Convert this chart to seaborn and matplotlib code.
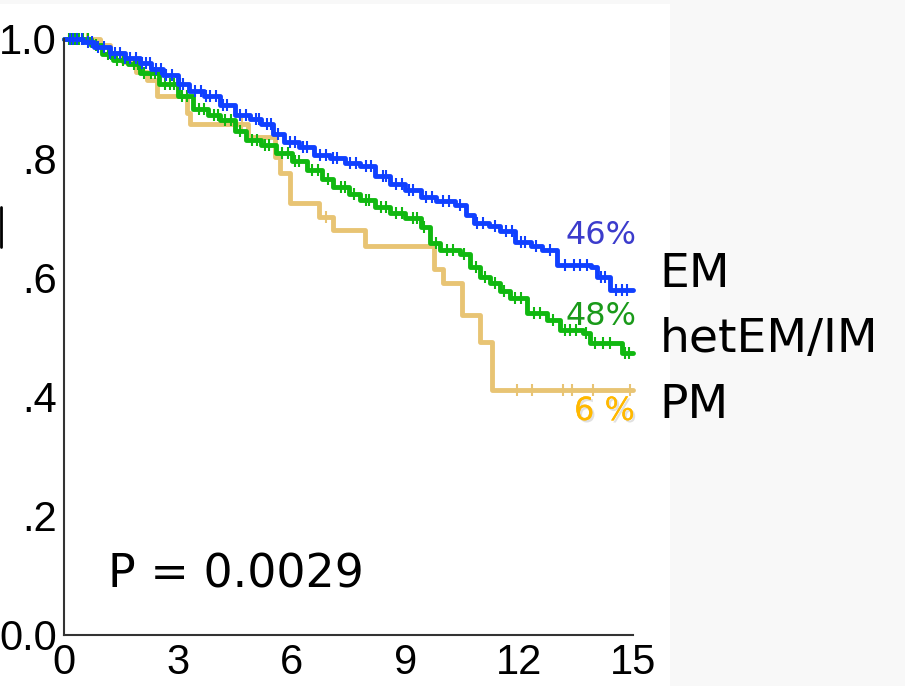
import numpy as np
import pandas as pd
import matplotlib
matplotlib.use("Agg")
import matplotlib.pyplot as plt
import matplotlib.patheffects as pe
from matplotlib.patches import Rectangle
from matplotlib.lines import Line2D
import seaborn as sns

# Kaplan-Meier steps: (years, survival)
em_t = [0, 0.5, 0.8, 1.2, 1.6, 2.0, 2.3, 2.6, 3.0, 3.3, 3.7, 4.1, 4.5, 4.9, 5.2, 5.5, 5.8,
        6.2, 6.6, 7.0, 7.4, 7.8, 8.2, 8.6, 9.0, 9.4, 9.8, 10.3, 10.6, 10.8, 11.2, 11.5,
        11.9, 12.3, 12.6, 13.0, 13.9, 14.05, 14.4, 15.0]
em_s = [1.0, 0.995, 0.987, 0.976, 0.968, 0.96, 0.95, 0.94, 0.925, 0.912, 0.905, 0.89, 0.872,
        0.865, 0.857, 0.84, 0.828, 0.818, 0.806, 0.8, 0.792, 0.787, 0.77, 0.757, 0.747, 0.735,
        0.728, 0.722, 0.705, 0.692, 0.686, 0.678, 0.66, 0.652, 0.646, 0.621, 0.617, 0.6,
        0.579, 0.579]

het_t = [0, 0.7, 1.0, 1.3, 1.7, 2.0, 2.5, 3.0, 3.4, 3.8, 4.1, 4.5, 4.8, 5.2, 5.6, 6.0, 6.4,
         6.8, 7.1, 7.5, 7.8, 8.2, 8.6, 9.0, 9.4, 9.65, 9.9, 10.45, 10.7, 10.97, 11.23, 11.5,
         11.76, 12.2, 12.73, 13.08, 13.68, 13.87, 14.7, 15.0]
het_s = [1.0, 0.99, 0.975, 0.965, 0.958, 0.943, 0.925, 0.905, 0.882, 0.873, 0.864, 0.845,
         0.83, 0.822, 0.808, 0.795, 0.78, 0.765, 0.752, 0.74, 0.73, 0.718, 0.708, 0.7, 0.685,
         0.658, 0.646, 0.64, 0.618, 0.6, 0.59, 0.578, 0.566, 0.54, 0.528, 0.512, 0.507, 0.49,
         0.473, 0.473]

pm_t = [0, 0.95, 1.2, 1.55, 1.9, 2.2, 2.45, 3.24, 3.32, 4.85, 5.55, 5.7, 5.96, 6.72, 7.1,
        7.94, 9.75, 10.0, 10.49, 10.97, 11.28, 15.0]
pm_s = [1.0, 0.99, 0.976, 0.962, 0.945, 0.932, 0.905, 0.876, 0.857, 0.836, 0.802, 0.775,
        0.725, 0.701, 0.68, 0.652, 0.614, 0.591, 0.537, 0.492, 0.411, 0.411]

# censored times (tick marks)
em_cens = [0.15, 0.25, 0.35, 0.48, 0.62, 0.75, 0.9, 1.05, 1.2, 1.35, 1.48, 1.62, 1.75, 1.9,
           2.05, 2.15, 2.28, 2.42, 2.55, 2.7, 2.85, 3.05, 3.15, 3.45, 3.6, 3.75, 3.85, 4.0,
           4.2, 4.3, 4.65, 4.8, 5.05, 5.15, 5.35, 5.45, 5.65, 5.95, 6.1, 6.3, 6.4, 6.75, 6.9,
           7.1, 7.2, 7.55, 7.7, 7.95, 8.1, 8.4, 8.5, 8.75, 8.9, 9.1, 9.2, 9.55, 9.7, 10.0,
           10.15, 10.45, 10.9, 11.05, 11.35, 11.65, 11.8, 12.05, 12.15, 12.45, 12.8, 13.2,
           13.45, 13.6, 13.8, 14.15, 14.25, 14.55, 14.7, 14.85]
het_cens = [0.12, 0.22, 0.3, 0.4, 0.5, 0.62, 0.85, 1.15, 1.25, 1.4, 1.55, 1.85, 1.95, 2.1,
            2.3, 2.4, 2.65, 2.8, 2.9, 3.1, 3.25, 3.55, 3.7, 3.95, 4.05, 4.25, 4.4, 4.65,
            4.95, 5.1, 5.3, 5.4, 5.75, 5.9, 6.1, 6.2, 6.55, 6.7, 6.95, 7.3, 7.4, 7.65, 7.95,
            8.05, 8.35, 8.5, 8.75, 8.9, 9.2, 9.3, 9.5, 9.8, 10.1, 10.25, 10.55, 10.85, 11.1,
            11.35, 11.6, 11.9, 12.05, 12.4, 12.55, 12.9, 13.2, 13.35, 13.5, 13.75, 14.0,
            14.2, 14.4, 14.8, 14.9]
pm_cens = [0.3, 0.6, 1.0, 4.7, 6.9, 11.94, 12.34, 13.16, 13.4, 13.95, 14.92]

c_em = "#1040FF"
c_het = "#10B810"
c_pm = "#E8C474"

x_ticks = [0, 3, 6, 9, 12, 15]
y_ticks = [0.0, 0.2, 0.4, 0.6, 0.8, 1.0]
y_labels = ["0.0", ".2", ".4", ".6", ".8", "1.0"]

sns.set_style("white")
plt.rcParams["font.family"] = ["DejaVu Sans"]

fig = plt.figure(figsize=(9.05, 6.86), dpi=100)
fig.patch.set_facecolor("#F8F8F8")
fig.patches.append(Rectangle((0, 0), 670 / 905, 682 / 686, transform=fig.transFigure,
                             facecolor="white", edgecolor="none", zorder=-10))
fig.lines.append(Line2D([1 / 905, 1 / 905], [1 - 207 / 686, 1 - 247 / 686],
                        transform=fig.transFigure, color="black", lw=2))

ax = fig.add_axes([64 / 905, 51 / 686, 569 / 905, 596 / 686])
ax.set_facecolor("none")


def surv_at(t, s, x):
    idx = np.searchsorted(t, x, side="right") - 1
    return np.array(s)[idx]


for t, s, cens, col in [(pm_t, pm_s, pm_cens, c_pm),
                        (het_t, het_s, het_cens, c_het),
                        (em_t, em_s, em_cens, c_em)]:
    df = pd.DataFrame({"t": t, "s": s})
    sns.lineplot(data=df, x="t", y="s", ax=ax, color=col, lw=3.5, drawstyle="steps-post",
                 estimator=None, sort=False, clip_on=False)
    cy = surv_at(t, s, cens)
    ax.plot(cens, cy, ls="none", marker="|", ms=8, mew=1.5, color=col, clip_on=False)

ax.set_xlim(0, 15)
ax.set_ylim(0, 1)
ax.set_xlabel("")
ax.set_ylabel("")
sns.despine(ax=ax)
for sp in ["left", "bottom"]:
    ax.spines[sp].set_color("#333333")
    ax.spines[sp].set_linewidth(1.5)

tick_font = "Liberation Sans"
ax.set_xticks(x_ticks)
ax.set_xticklabels([str(v) for v in x_ticks], fontsize=30, family=tick_font, color="black")
ax.set_yticks(y_ticks)
ax.set_yticklabels(y_labels, fontsize=30, family=tick_font, color="black")
ax.tick_params(axis="both", length=3, width=2, color="#333333", direction="out")
ax.tick_params(axis="y", pad=2)
ax.tick_params(axis="x", pad=3)
for lab in ax.get_yticklabels():
    lab.set_verticalalignment("center_baseline")

ax.text(15.1, 0.67, "46%", color="#3C3CCC", fontsize=23, ha="right", va="center")
ax.text(15.1, 0.535, "48%", color="#1A9A1A", fontsize=23, ha="right", va="center")
ax.text(15.05, 0.375, "6 %", color="#FFB800", fontsize=23, ha="right", va="center",
        path_effects=[pe.withSimplePatchShadow(offset=(1.5, -1.5), shadow_rgbFace="#999999",
                                                alpha=0.3), pe.Normal()])

ax.text(15.7, 0.605, "EM", color="black", fontsize=34, ha="left", va="center", clip_on=False)
ax.text(15.7, 0.495, "hetEM/IM", color="black", fontsize=34, ha="left", va="center", clip_on=False)
ax.text(15.7, 0.385, "PM", color="black", fontsize=34, ha="left", va="center", clip_on=False)

ax.text(1.15, 0.1, "P = 0.0029", color="black", fontsize=33, ha="left", va="center")

fig.savefig("out.png", dpi=100, facecolor=fig.get_facecolor())
